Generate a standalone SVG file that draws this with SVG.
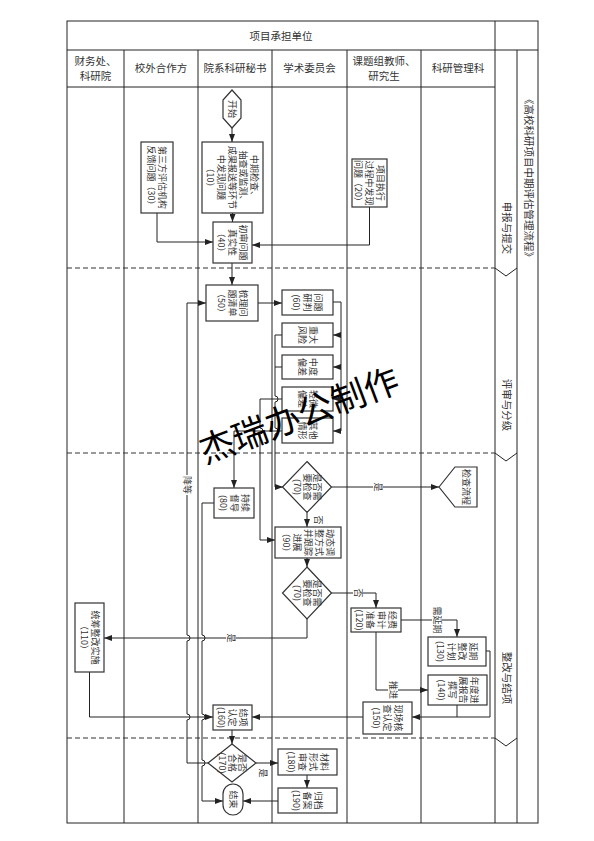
<svg xmlns="http://www.w3.org/2000/svg" width="594" height="841" viewBox="0 0 594 841">
<style>
.fr{fill:none;stroke:#222;stroke-width:1}
.dash{fill:none;stroke:#333;stroke-width:1;stroke-dasharray:5,3}
.box{fill:#fff;stroke:#333;stroke-width:1.2}
.ln{fill:none;stroke:#222;stroke-width:1}
.ar{marker-end:url(#ah)}
.v{font-family:"Noto Sans CJK SC","Noto Sans",sans-serif;font-size:9px;fill:#333;text-anchor:middle}
.h{font-family:"Noto Sans CJK SC","Noto Sans",sans-serif;font-size:10.5px;fill:#333;text-anchor:middle}
.bg{fill:#fff;stroke:none}
.wm{font-family:"Noto Sans CJK SC",sans-serif;font-size:35px;fill:#000}
</style>
<defs>
<marker id="ah" markerUnits="userSpaceOnUse" markerWidth="8" markerHeight="6" refX="8" refY="3" orient="auto"><path d="M0,0 L8,3 L0,6 z" fill="#222"/></marker>
</defs>
<rect width="594" height="841" fill="#fff"/>
<g id="frame">
<rect class="fr" x="67" y="21" width="471" height="802" stroke-width="1.2"/>
<path class="fr" d="M67,50 H538 M67,87 H495 M124,50 V823 M198,50 V823 M272,50 V823 M347,50 V823 M421,50 V823 M495,21 V823 M517,50 V823"/>
<path class="dash" d="M67,268 H495 M67,453 H495 M67,738 H495"/>
<path class="fr" d="M495,268 L506,276 L517,268 M495,453 L506,461 L517,453 M495,738 L506,746 L517,738"/>
<text class="h" x="281" y="40" font-size="11.5">项目承担单位</text>
<text class="h" x="95.5" y="65">财务处、</text><text class="h" x="95.5" y="80">科研院</text>
<text class="h" x="161" y="72">校外合作方</text>
<text class="h" x="235" y="72">院系科研秘书</text>
<text class="h" x="309.5" y="72">学术委员会</text>
<text class="h" x="384" y="65">课题组教师、</text><text class="h" x="384" y="80">研究生</text>
<text class="h" x="458" y="72">科研管理科</text>
<text class="h" transform="translate(506,228) rotate(90)" y="3.5">申报与提交</text>
<text class="h" transform="translate(506,405) rotate(90)" y="3.5">评审与分级</text>
<text class="h" transform="translate(506,678) rotate(90)" y="3.5">整改与结项</text>
<text class="h" transform="translate(528,178) rotate(90)" y="3.5" font-size="10">《高校科研项目中期评估管理流程》</text>
</g>
<g id="connectors">
<path class="ln ar" d="M232,128 V142"/>
<path class="ln ar" d="M232.5,213 V222"/>
<path class="ln ar" d="M157,213 V242 H213"/>
<path class="ln ar" d="M369.5,207 V245 H252"/>
<path class="ln ar" d="M232,263 V285"/>
<path class="ln ar" d="M258,303 H282"/>
<path class="ln ar" d="M333,302 H341 V431 H333"/>
<path class="ln ar" d="M341,335 H333"/>
<path class="ln ar" d="M341,367 H333"/>
<path class="ln ar" d="M341,399 H333"/>
<path class="ln" d="M282,367 H275"/>
<path class="ln ar" d="M282,335 H275 V396 a3,3 0 0 1 0,6 V428 a3,3 0 0 1 0,6 V487 H283"/>
<path class="ln ar" d="M282,399 H260 V428 a3,3 0 0 1 0,6 V540 H275"/>
<path class="ln ar" d="M282,431 H234 V488"/>
<path class="ln ar" d="M331.5,487 H439"/>
<path class="ln ar" d="M307,512.5 V527"/>
<path class="ln ar" d="M307,558 V567"/>
<path class="ln ar" d="M331.5,593 H376 V608"/>
<path class="ln ar" d="M307,619 V638 H104"/>
<path class="ln ar" d="M89.5,672 V717 H213"/>
<path class="ln ar" d="M363,717 H252"/>
<path class="ln ar" d="M401,620 H457 V637"/>
<path class="ln ar" d="M376,632 V690 H428"/>
<path class="ln ar" d="M486,651 H490 V717 H412"/>
<path class="ln" d="M457,705 V717"/>
<path class="ln ar" d="M232,730 V744"/>
<path class="ln ar" d="M256,763 H278"/>
<path class="ln ar" d="M307,775 V788"/>
<path class="ln ar" d="M278,801 H243"/>
<path class="ln ar" d="M208,763 H187 V720 a3,3 0 0 0 0,-6 V641 a3,3 0 0 0 0,-6 V303 H206"/>
<path class="ln ar" d="M214,503 H202 V635 a3,3 0 0 1 0,6 V714 a3,3 0 0 1 0,6 V760 a3,3 0 0 1 0,6 V801 H223"/>
<rect class="bg" x="373" y="481" width="10" height="12"/>
<text class="v" transform="translate(378,487) rotate(90)" y="3.2">是</text>
<text class="v" transform="translate(318,520) rotate(90)" y="3.2">否</text>
<rect class="bg" x="353" y="587" width="10" height="12"/>
<text class="v" transform="translate(358,593) rotate(90)" y="3.2">否</text>
<rect class="bg" x="226" y="632" width="10" height="12"/>
<text class="v" transform="translate(231,638) rotate(90)" y="3.2">是</text>
<rect class="bg" x="432" y="606" width="10" height="28"/>
<text class="v" transform="translate(437,620) rotate(90)" y="3.2">需延期</text>
<rect class="bg" x="388" y="681" width="10" height="19"/>
<text class="v" transform="translate(393,690) rotate(90)" y="3.2">推进</text>
<text class="v" transform="translate(263,773) rotate(90)" y="3.2">是</text>
<rect class="bg" x="182" y="475" width="10" height="20"/>
<text class="v" transform="translate(187,485) rotate(90)" y="3.2">降等</text>
</g>
<g id="n-start">
<polygon class="box" points="232,90 241,100 241,118 232,128 223,118 223,100"/>
<text class="v" transform="translate(232,109) rotate(90)" y="3.2">开始</text>
</g>
<g id="n10">
<rect class="box" x="202" y="142" width="61" height="71"/>
<text class="v" transform="translate(232.5,177.5) rotate(90)"><tspan x="0" y="-18.8">中期检查、</tspan><tspan x="0" y="-7.8">抽查或监测、</tspan><tspan x="0" y="3.2">成果报送等环节</tspan><tspan x="0" y="14.2">中发现问题</tspan><tspan x="0" y="25.2">（10）</tspan></text>
</g>
<g id="n30">
<rect class="box" x="141" y="142" width="32" height="71"/>
<text class="v" transform="translate(157,177.5) rotate(90)"><tspan x="0" y="-2.3">第三方评估机构</tspan><tspan x="0" y="8.7">反馈问题（30）</tspan></text>
</g>
<g id="n20">
<rect class="box" x="352" y="159" width="35" height="48"/>
<text class="v" transform="translate(369.5,183) rotate(90)"><tspan x="0" y="-7.8">项目执行</tspan><tspan x="0" y="3.2">过程中发现</tspan><tspan x="0" y="14.2">问题（20）</tspan></text>
</g>
<g id="n40">
<rect class="box" x="213" y="222" width="39" height="41"/>
<text class="v" transform="translate(232.5,242.5) rotate(90)"><tspan x="0" y="-7.8">初审问题</tspan><tspan x="0" y="3.2">真实性</tspan><tspan x="0" y="14.2">（40）</tspan></text>
</g>
<g id="n50">
<rect class="box" x="206" y="285" width="52" height="36"/>
<text class="v" transform="translate(232,303) rotate(90)"><tspan x="0" y="-7.8">梳理问</tspan><tspan x="0" y="3.2">题清单</tspan><tspan x="0" y="14.2">（50）</tspan></text>
</g>
<g id="n60">
<rect class="box" x="282" y="290" width="51" height="25"/>
<text class="v" transform="translate(307.5,302.5) rotate(90)"><tspan x="0" y="-7.8">问题</tspan><tspan x="0" y="3.2">研判</tspan><tspan x="0" y="14.2">(60)</tspan></text>
</g>
<g id="n-major">
<rect class="box" x="282" y="323" width="51" height="24"/>
<text class="v" transform="translate(307.5,335) rotate(90)"><tspan x="0" y="-2.3">重大</tspan><tspan x="0" y="8.7">风险</tspan></text>
</g>
<g id="n-moderate">
<rect class="box" x="282" y="355" width="51" height="24"/>
<text class="v" transform="translate(307.5,367) rotate(90)"><tspan x="0" y="-2.3">中度</tspan><tspan x="0" y="8.7">偏差</tspan></text>
</g>
<g id="n-minor">
<rect class="box" x="282" y="387" width="51" height="24"/>
<text class="v" transform="translate(307.5,399) rotate(90)"><tspan x="0" y="-2.3">轻微</tspan><tspan x="0" y="8.7">偏差</tspan></text>
</g>
<g id="n-other">
<rect class="box" x="282" y="418" width="51" height="25"/>
<text class="v" transform="translate(307.5,430.5) rotate(90)"><tspan x="0" y="-2.3">其他</tspan><tspan x="0" y="8.7">情形</tspan></text>
</g>
<g id="n70a">
<polygon class="box" points="307,461.5 331.5,487 307,512.5 282.5,487"/>
<text class="v" font-size="8.5" transform="translate(307,487) rotate(90)"><tspan x="0" y="-7">是否需</tspan><tspan x="0" y="3">要检查</tspan><tspan x="0" y="13">(70)</tspan></text>
</g>
<g id="n-check">
<polygon class="box" points="439,487 455,467 477,467 477,507 455,507"/>
<text class="v" transform="translate(466,487) rotate(90)" y="3.2">检查流程</text>
</g>
<g id="n80">
<rect class="box" x="214" y="488" width="40" height="30"/>
<text class="v" transform="translate(234,503) rotate(90)"><tspan x="0" y="-7.8">持续</tspan><tspan x="0" y="3.2">督导</tspan><tspan x="0" y="14.2">(80)</tspan></text>
</g>
<g id="n90">
<rect class="box" x="275" y="527" width="66" height="31"/>
<text class="v" transform="translate(308,542.5) rotate(90)"><tspan x="0" y="-18.8">动态调</tspan><tspan x="0" y="-7.8">整方式</tspan><tspan x="0" y="3.2">并跟踪</tspan><tspan x="0" y="14.2">进展</tspan><tspan x="0" y="25.2">（90）</tspan></text>
</g>
<g id="n70b">
<polygon class="box" points="307,567 331.5,593 307,619 282.5,593"/>
<text class="v" font-size="8.5" transform="translate(307,593) rotate(90)"><tspan x="0" y="-7">是否需</tspan><tspan x="0" y="3">要检查</tspan><tspan x="0" y="13">(70)</tspan></text>
</g>
<g id="n110">
<rect class="box" x="75" y="603" width="29" height="69"/>
<text class="v" transform="translate(89.5,637.5) rotate(90)"><tspan x="0" y="-2.3">统筹整改实施</tspan><tspan x="0" y="8.7">（110）</tspan></text>
</g>
<g id="n120">
<rect class="box" x="351" y="608" width="50" height="24"/>
<text class="v" transform="translate(376,620) rotate(90)"><tspan x="0" y="-13.3">经费</tspan><tspan x="0" y="-2.3">审计</tspan><tspan x="0" y="8.7">准备</tspan><tspan x="0" y="19.7">(120)</tspan></text>
</g>
<g id="n130">
<rect class="box" x="428" y="637" width="58" height="29"/>
<text class="v" transform="translate(457,651.5) rotate(90)"><tspan x="0" y="-13.3">延期</tspan><tspan x="0" y="-2.3">整改</tspan><tspan x="0" y="8.7">计划</tspan><tspan x="0" y="19.7">(130)</tspan></text>
</g>
<g id="n140">
<rect class="box" x="428" y="675" width="59" height="30"/>
<text class="v" transform="translate(457.5,690) rotate(90)"><tspan x="0" y="-13.3">年度进</tspan><tspan x="0" y="-2.3">展报告</tspan><tspan x="0" y="8.7">撰写</tspan><tspan x="0" y="19.7">(140)</tspan></text>
</g>
<g id="n150">
<rect class="box" x="363" y="702" width="49" height="32"/>
<text class="v" transform="translate(387.5,718) rotate(90)"><tspan x="0" y="-7.8">现场核</tspan><tspan x="0" y="3.2">查认定</tspan><tspan x="0" y="14.2">(150)</tspan></text>
</g>
<g id="n160">
<rect class="box" x="213" y="705" width="39" height="25"/>
<text class="v" transform="translate(232.5,717.5) rotate(90)"><tspan x="0" y="-7.8">结项</tspan><tspan x="0" y="3.2">认定</tspan><tspan x="0" y="14.2">(160)</tspan></text>
</g>
<g id="n170">
<polygon class="box" points="232,744 256,763 232,782 208,763"/>
<text class="v" font-size="8" transform="translate(232,763) rotate(90)"><tspan x="0" y="-7">是否</tspan><tspan x="0" y="3">合格</tspan><tspan x="0" y="13">(170)</tspan></text>
</g>
<g id="n180">
<rect class="box" x="278" y="749" width="59" height="26"/>
<text class="v" transform="translate(307.5,762) rotate(90)"><tspan x="0" y="-13.3">材料</tspan><tspan x="0" y="-2.3">形式</tspan><tspan x="0" y="8.7">审查</tspan><tspan x="0" y="19.7">(180)</tspan></text>
</g>
<g id="n190">
<rect class="box" x="278" y="788" width="59" height="25"/>
<text class="v" transform="translate(307.5,800.5) rotate(90)"><tspan x="0" y="-7.8">归档</tspan><tspan x="0" y="3.2">备案</tspan><tspan x="0" y="14.2">(190)</tspan></text>
</g>
<g id="n-end">
<rect class="box" x="223" y="784" width="20" height="31" rx="10" ry="10"/>
<text class="v" transform="translate(233,799.5) rotate(90)" y="3.2">结束</text>
</g>
<text class="wm" transform="translate(205,464) rotate(-20.5)">杰瑞办公制作</text>
</svg>
